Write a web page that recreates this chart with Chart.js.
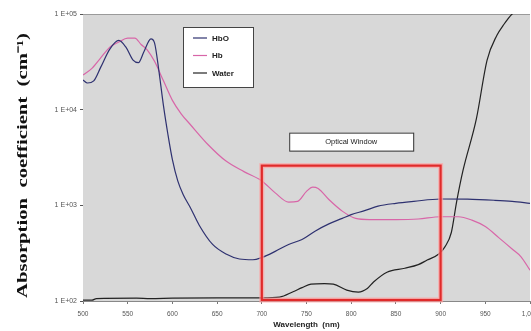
<!DOCTYPE html>
<html><head><meta charset="utf-8">
<script src="https://cdn.jsdelivr.net/npm/chart.js@4/dist/chart.umd.min.js"></script>
<style>html,body{margin:0;padding:0;background:#fff}#wrap{width:531px;height:331px}</style>
</head><body><div id="wrap"><canvas id="c"></canvas></div>
<script>
// ---- data ----
const seriesLabels = ['HbO', 'Hb', 'Water'];
const hboWavelength = [500,505,512,520,530,540,548,556,562,568,576,580,585,590,595,600,606,612,620,630,645,660,675,690,700,715,730,745,760,775,790,800,815,830,850,870,900,930,960,980,1000];
const hboValues     = [20400,19000,20000,28000,43000,53000,45000,33000,31000,40000,55000,50000,25000,11000,5500,3000,1800,1300,950,620,390,310,275,270,285,330,390,440,540,640,730,800,880,980,1050,1100,1165,1160,1130,1100,1050];
const hbWavelength  = [500,510,520,530,540,550,558,565,572,580,590,600,610,620,640,660,680,700,715,730,740,750,757,763,775,790,805,820,850,875,900,920,935,950,965,980,990,1000];
const hbValues      = [23000,27000,35000,45000,51000,56000,56000,48000,42000,32000,20000,12500,9000,7000,4300,2900,2250,1800,1350,1080,1100,1400,1550,1500,1150,870,730,710,710,720,760,760,700,600,460,350,290,210];
const waterWavelength = [500,510,515,560,575,600,650,700,720,735,745,755,770,780,795,808,818,825,840,860,875,885,898,905,912,918,925,940,952,963,970,980,1000];
const waterValues     = [102,102,106,107,106,107,108,108,110,125,138,150,152,150,130,124,135,158,200,220,240,268,310,370,520,1100,2300,8000,33000,60000,76000,100000,130000];
const xTicks = [500,550,600,650,700,750,800,850,900,950,1000];
const yTicks = [100,1000,10000,100000];
const yTickLabels = ['1 E+02','1 E+03','1 E+04','1 E+05'];
const yTitle = 'Absorption  coefficient  (cm\u207B\u00B9)';
const xTitle = 'Wavelength  (nm)';
const opticalWindow = [700, 900];      // wavelength range
const opticalWindowTop = 2600;         // top value of window box
const windowLabel = 'Optical Window';
const colors = ['#2e3170', '#d866a8', '#222222'];

const pts = (xs, ys) => xs.map((x, i) => ({x, y: ys[i]}));

const decor = {
  id: 'decor',
  beforeDatasetsDraw(chart) {
    const {ctx, chartArea: a} = chart;
    ctx.save();
    ctx.fillStyle = '#d8d8d8';
    ctx.fillRect(a.left, a.top, a.right - a.left, a.bottom - a.top);
    ctx.strokeStyle = '#9a9a9a'; ctx.lineWidth = 1;
    ctx.beginPath(); ctx.moveTo(a.left, a.top + 0.5); ctx.lineTo(a.right, a.top + 0.5); ctx.stroke();
    ctx.restore();
  },
  afterDatasetsDraw(chart) {
    const {ctx, scales: {x, y}} = chart;
    const l = x.getPixelForValue(opticalWindow[0]), r = x.getPixelForValue(opticalWindow[1]);
    const t = y.getPixelForValue(opticalWindowTop), b = y.getPixelForValue(100);
    ctx.save();
    ctx.strokeStyle = 'rgba(255,160,160,0.7)'; ctx.lineWidth = 5;
    ctx.strokeRect(l, t, r - l, b - t - 1);
    ctx.strokeStyle = '#e02a2a'; ctx.lineWidth = 2.2;
    ctx.strokeRect(l, t, r - l, b - t - 1);
    // optical window label
    const cx = (l + r) / 2, ly = t - 33;
    ctx.fillStyle = '#fff'; ctx.fillRect(cx - 62, ly, 124, 18);
    ctx.strokeStyle = '#333'; ctx.lineWidth = 1; ctx.strokeRect(cx - 62 + 0.5, ly + 0.5, 124, 18);
    ctx.fillStyle = '#222'; ctx.font = '7.5px "Liberation Sans", Arial, sans-serif';
    ctx.textAlign = 'center'; ctx.textBaseline = 'middle';
    ctx.fillText(windowLabel, cx, ly + 9.5);
    // legend
    const lx = 183, lyy = 27, w = 70, h = 60;
    ctx.fillStyle = '#fff'; ctx.fillRect(lx, lyy, w, h);
    ctx.strokeStyle = '#444'; ctx.strokeRect(lx + 0.5, lyy + 0.5, w, h);
    ctx.font = 'bold 8px "Liberation Sans", Arial, sans-serif'; ctx.textAlign = 'left';
    seriesLabels.forEach((s, i) => {
      const yy = lyy + 11 + i * 17.5;
      ctx.strokeStyle = colors[i]; ctx.lineWidth = 1.2;
      ctx.beginPath(); ctx.moveTo(lx + 10, yy); ctx.lineTo(lx + 24, yy); ctx.stroke();
      ctx.fillStyle = '#222'; ctx.fillText(s, lx + 29, yy + 0.5);
    });
    ctx.restore();
  },
  afterDraw(chart) {
    const {ctx, chartArea: a} = chart;
    ctx.save();
    ctx.translate(23, (a.top + a.bottom) / 2 + 8);
    ctx.rotate(-Math.PI / 2);
    ctx.scale(1.38, 1);
    ctx.font = 'bold 15px "Liberation Serif", "Times New Roman", serif';
    ctx.fillStyle = '#111'; ctx.textAlign = 'center'; ctx.textBaseline = 'middle';
    ctx.fillText(yTitle, 0, 0);
    ctx.restore();
  }
};

new Chart(document.getElementById('c'), {
  type: 'line',
  data: {
    datasets: [
      {label: seriesLabels[0], data: pts(hboWavelength, hboValues), borderColor: colors[0]},
      {label: seriesLabels[1], data: pts(hbWavelength, hbValues), borderColor: colors[1]},
      {label: seriesLabels[2], data: pts(waterWavelength, waterValues), borderColor: colors[2]}
    ]
  },
  options: {
    responsive: true, maintainAspectRatio: false, animation: false,
    layout: {padding: {top: 14, right: 1, left: 0, bottom: 0}},
    elements: {point: {radius: 0}, line: {borderWidth: 1.2, cubicInterpolationMode: 'monotone'}},
    plugins: {legend: {display: false}, tooltip: {enabled: false}},
    scales: {
      x: {
        type: 'linear', min: 500, max: 1000,
        afterBuildTicks: s => { s.ticks = xTicks.map(v => ({value: v})); },
        afterFit: s => { s.height = 30; s.paddingLeft = 0; s.paddingRight = 0; },
        grid: {display: true, drawOnChartArea: false, tickLength: 3, color: '#777'},
        border: {color: '#888'},
        ticks: {padding: 6, maxRotation: 0, autoSkip: false, color: '#555', font: {size: 6.5, family: '"Liberation Sans", Arial'}},
        title: {display: true, text: xTitle, color: '#222', padding: {top: 0, bottom: 1}, font: {size: 8, weight: 'bold', family: '"Liberation Sans", Arial'}}
      },
      y: {
        type: 'logarithmic', min: 100, max: 100000,
        afterBuildTicks: s => { s.ticks = yTicks.map(v => ({value: v})); },
        afterFit: s => { s.width = 83; },
        grid: {display: true, drawOnChartArea: false, tickLength: 3, color: '#555'},
        border: {color: '#888'},
        ticks: {padding: 3, color: '#555', font: {size: 7, family: '"Liberation Sans", Arial'},
          callback: (v) => yTickLabels[yTicks.indexOf(v)] ?? ''}
      }
    }
  },
  plugins: [decor]
});
</script></body></html>
